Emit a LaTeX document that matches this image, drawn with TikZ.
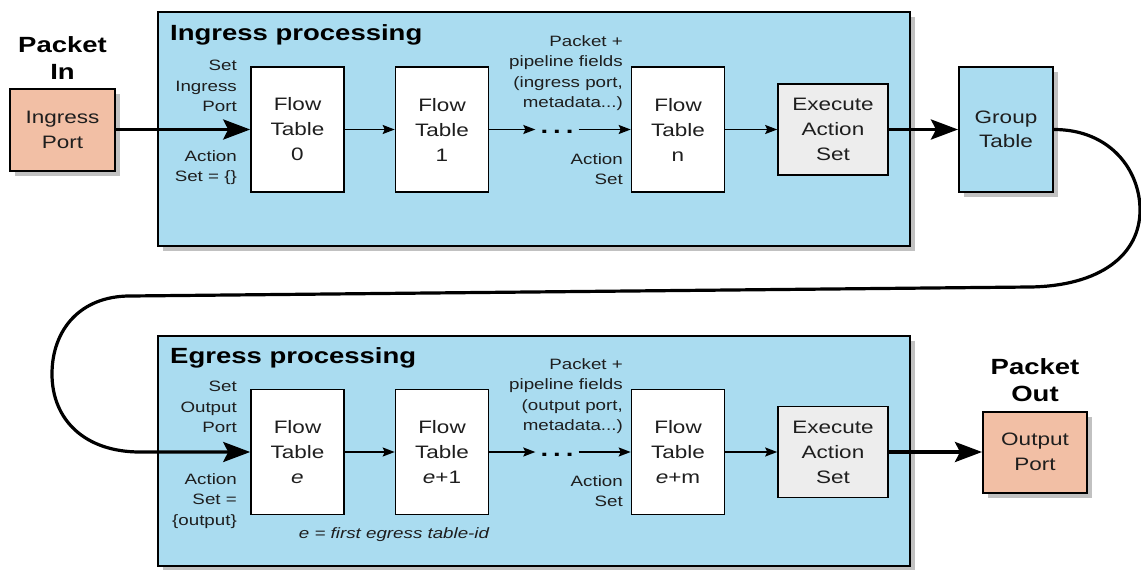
\documentclass[tikz,border=0pt]{standalone}
\usepackage{fontspec}
\setmainfont[FakeStretch=1.25]{Liberation Sans}
\usetikzlibrary{arrows.meta,shadows}
\definecolor{pblue}{RGB}{170,220,240}
\definecolor{psalmon}{RGB}{242,191,165}
\definecolor{pgray}{RGB}{237,237,237}
\definecolor{ptext}{RGB}{30,30,30}
\begin{document}
\begin{tikzpicture}[x=1pt,y=-1pt,
  shad/.style={drop shadow={shadow xshift=5pt,shadow yshift=-5pt,opacity=0.35,fill=black!70}},
  container/.style={draw=black,line width=2.2pt,fill=pblue,inner sep=0pt,shad},
  ftable/.style={draw=black,line width=1.6pt,fill=white,inner sep=0pt,minimum width=93pt,minimum height=125pt,align=center,text=ptext,font=\fontsize{18}{25}\selectfont},
  execbox/.style={draw=black,line width=1.6pt,fill=pgray,inner sep=0pt,minimum width=110pt,minimum height=91pt,align=center,text=ptext,font=\fontsize{18}{25}\selectfont},
  portbox/.style={draw=black,line width=2pt,fill=psalmon,inner sep=0pt,minimum width=105pt,minimum height=82pt,align=center,text=ptext,font=\fontsize{18}{25}\selectfont,shad},
  groupbox/.style={draw=black,line width=2pt,fill=pblue,inner sep=0pt,minimum width=94pt,minimum height=125pt,align=center,text=ptext,font=\fontsize{18}{24.5}\selectfont,shad},
  lbl/.style={font=\fontsize{15}{20.5}\selectfont,align=right,anchor=north east,inner sep=0pt,text=ptext},
  header/.style={font=\bfseries\fontsize{22}{26}\selectfont,anchor=base west,inner sep=0pt,text=black},
  pkt/.style={font=\bfseries\fontsize{22}{27}\selectfont,align=center,anchor=north,inner sep=0pt,text=black},
  thick arrow/.style={line width=3.5pt,-{Stealth[length=27pt,width=20pt,inset=5pt]}},
  thin arrow/.style={line width=1.5pt,-{Stealth[length=12pt,width=9pt,inset=2pt]}},
  curve/.style={line width=3.2pt,-{Stealth[length=27pt,width=20pt,inset=5pt]}},
  dotsnode/.style={font=\bfseries\fontsize{22}{22}\selectfont,inner xsep=5pt,inner ysep=0pt,anchor=base,text=black}
]
\useasboundingbox (0,0) rectangle (1141,570);

% containers
\node[container,minimum width=752pt,minimum height=234pt] (ing) at (534,129) {};
\node[container,minimum width=752pt,minimum height=230pt] (egr) at (534,451) {};

% headers
\node[header] (ingt) at (170,40) {Ingress processing};
\node[header] (egrt) at (170,363) {Egress processing};

% packet in / out
\node[pkt] (pin) at (62.5,36) {Packet\\In};
\node[pkt] (pout) at (1035,358) {Packet\\Out};

% ingress row
\node[portbox] (ip) at (62.5,129.5) {Ingress\\Port};
\node[ftable] (ft0) at (297.5,129.5) {Flow\\Table\\0};
\node[ftable] (ft1) at (442,129.5) {Flow\\Table\\1};
\node[dotsnode] (d1) at (557,133.5) {.\hspace{5pt}.\hspace{5pt}.};
\node[ftable] (ftn) at (678,129.5) {Flow\\Table\\n};
\node[execbox] (ex1) at (833,129.5) {Execute\\Action\\Set};
\node[groupbox] (gt) at (1006,129.5) {Group\\Table};

\node[lbl] (l1) at (237,60) {Set\\Ingress\\Port};
\node[lbl] (l2) at (237,150) {Action\\Set = \{\}};
\node[lbl] (l3) at (623,35) {Packet +\\pipeline fields\\(ingress port,\\metadata...)};
\node[lbl] (l4) at (623,153) {Action\\Set};

% egress row
\node[ftable] (fte) at (297.5,452) {Flow\\Table\\\textit{e}};
\node[ftable] (fte1) at (442,452) {Flow\\Table\\\textit{e}+1};
\node[dotsnode] (d2) at (557,456) {.\hspace{5pt}.\hspace{5pt}.};
\node[ftable] (ftem) at (678,452) {Flow\\Table\\\textit{e}+m};
\node[execbox] (ex2) at (833,452) {Execute\\Action\\Set};
\node[portbox,minimum width=104pt,minimum height=81pt] (op) at (1035,452) {Output\\Port};

\node[lbl] (l5) at (237,381) {Set\\Output\\Port};
\node[lbl] (l6) at (237,473) {Action\\Set =\\\{output\}};
\node[lbl] (l7) at (623,358) {Packet +\\pipeline fields\\(output port,\\metadata...)};
\node[lbl] (l8) at (623,475) {Action\\Set};
\node[font=\itshape\fontsize{15}{18}\selectfont,inner sep=0pt,anchor=base,text=ptext] (note) at (394,538) {e = first egress table-id};

% connectors ingress
\draw[thick arrow] (ip.east) -- (ft0.west);
\draw[thin arrow] (ft0.east) -- (ft1.west);
\draw[thin arrow] (ft1.east) -- (ft1.east -| d1.west);
\draw[thin arrow] (ftn.west -| d1.east) -- (ftn.west);
\draw[thin arrow] (ftn.east) -- (ex1.west);
\draw[thick arrow] (ex1.east) -- (gt.west);

% loop
\draw[curve] (gt.east) .. controls (1110,129.5) and (1140,170) .. (1140,210)
  .. controls (1140,255) and (1100,286) .. (1030,287) -- (130,296)
  .. controls (80,296) and (52,330) .. (52,374)
  .. controls (52,420) and (85,452) .. (140,452) -- (fte.west);

% connectors egress
\draw[thin arrow] (fte.east) -- (fte1.west);
\draw[thin arrow] (fte1.east) -- (fte1.east -| d2.west);
\draw[thin arrow] (ftem.west -| d2.east) -- (ftem.west);
\draw[thin arrow] (ftem.east) -- (ex2.west);
\draw[thick arrow] (ex2.east) -- (op.west);
\end{tikzpicture}
\end{document}
